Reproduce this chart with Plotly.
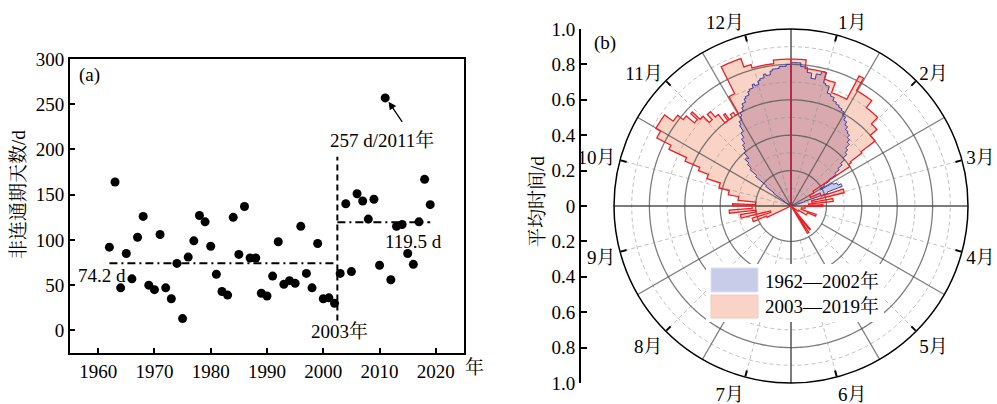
import numpy as np
import plotly.graph_objects as go

W, H = 997, 404
FONT = "'Liberation Serif', 'Noto Serif CJK SC', 'Noto Sans CJK SC', serif"

# ---------------- (a) data ----------------
years = list(range(1962, 2020))
days = [92, 164, 47, 85, 57, 103, 126, 50, 45, 106, 47, 35, 74, 13, 81, 99, 127, 120, 93, 62,
        43, 39, 125, 84, 137, 80, 80, 41, 38, 60, 98, 51, 55, 52, 115, 63, 47, 96, 35, 36, 30,
        63, 140, 65, 151, 143, 123, 145, 72, 257, 56, 115, 117, 85, 73, 120, 167, 139]
mean_early, mean_late = 74.2, 119.5
split_year = 2002.5
x_ticks = [1960, 1970, 1980, 1990, 2000, 2010, 2020]
y_ticks = [0, 50, 100, 150, 200, 250, 300]

# ---------------- (b) data: step values by day of year ----------------
red_start_day = [0, 6, 15, 20, 28, 30, 38, 45, 49, 53, 54, 55, 57, 61, 67, 73, 77, 81, 85, 89,
                 92, 101, 110, 114, 122, 128, 142, 144, 148, 151, 248, 251, 256, 260, 264, 267,
                 270, 274, 276, 280, 284, 288, 292, 295, 297, 299, 301, 304, 310, 313, 315, 317,
                 318, 320, 322, 324, 326, 328, 329, 331, 333, 335, 338, 346, 349, 358]
red_value = [0.83, 0.78, 0.74, 0.68, 0.83, 0.75, 0.70, 0.65, 0.60, 0.50, 0.42, 0.40, 0.15, 0.12,
             0.18, 0.31, 0.12, 0.24, 0.10, 0.18, 0.08, 0.06, 0.15, 0.10, 0.05, 0.0, 0.17, 0.05,
             0.18, 0.0, 0.15, 0.23, 0.12, 0.29, 0.20, 0.35, 0.22, 0.33, 0.20, 0.30, 0.36, 0.42,
             0.50, 0.56, 0.65, 0.76, 0.85, 0.88, 0.82, 0.78, 0.72, 0.77, 0.71, 0.66, 0.70, 0.66,
             0.60, 0.64, 0.60, 0.62, 0.60, 0.71, 0.88, 0.83, 0.81, 0.83]
blue_start_day = [0, 4, 7, 9, 11, 13, 15, 16, 18, 20, 22, 24, 26, 28, 30, 32, 34, 36, 38, 40, 42,
                  44, 46, 48, 50, 52, 54, 56, 58, 60, 62, 64, 67, 70, 72, 74, 77, 307, 310, 312,
                  314, 316, 318, 320, 322, 323, 325, 326, 328, 330, 332, 333, 335, 336, 338, 339,
                  341, 342, 344, 345, 347, 348, 350, 351, 353, 354, 356, 357, 360, 363]
blue_value = [0.81, 0.79, 0.76, 0.73, 0.76, 0.78, 0.72, 0.71, 0.67, 0.66, 0.64, 0.63, 0.62, 0.61,
              0.59, 0.57, 0.55, 0.53, 0.52, 0.50, 0.48, 0.45, 0.43, 0.40, 0.37, 0.34, 0.31, 0.26,
              0.22, 0.19, 0.27, 0.29, 0.31, 0.22, 0.08, 0.03, 0.0, 0.05, 0.12, 0.18, 0.26, 0.31,
              0.34, 0.37, 0.36, 0.40, 0.42, 0.44, 0.47, 0.50, 0.54, 0.56, 0.58, 0.60, 0.62, 0.64,
              0.66, 0.67, 0.69, 0.70, 0.72, 0.71, 0.73, 0.74, 0.76, 0.75, 0.77, 0.78, 0.79, 0.80]
months = ['1月', '2月', '3月', '4月', '5月', '6月', '7月', '8月', '9月', '10月', '11月', '12月']
series_names = ['1962—2002年', '2003—2019年']


def daily(starts, vals):
    out = np.zeros(365)
    for i, s in enumerate(starts):
        e = starts[i + 1] if i + 1 < len(starts) else 365
        out[s:e] = vals[i]
    return out


def outline(v):
    th, r = [0.0], [0.0]
    for d in range(365):
        a0, a1 = d * 360 / 365, (d + 1) * 360 / 365
        th += [a0, a1]
        r += [v[d], v[d]]
    th.append(360.0)
    r.append(0.0)
    return r, th


red_d = daily(red_start_day, red_value)
blue_d = daily(blue_start_day, blue_value)
both_d = np.minimum(red_d, blue_d)

fig = go.Figure()

# ---- (a) scatter ----
fig.add_trace(go.Scatter(x=years, y=days, mode='markers',
                         marker=dict(size=9, color='black'), xaxis='x', yaxis='y'))
fig.add_trace(go.Scatter(x=[years[0], split_year], y=[mean_early, mean_early], mode='lines',
                         line=dict(color='black', width=2, dash='8px,4px,2px,4px'),
                         xaxis='x', yaxis='y'))
fig.add_trace(go.Scatter(x=[split_year, years[-1]], y=[mean_late, mean_late], mode='lines',
                         line=dict(color='black', width=2, dash='8px,4px,2px,4px'),
                         xaxis='x', yaxis='y'))
fig.add_trace(go.Scatter(x=[split_year, split_year], y=[11, 192], mode='lines',
                         line=dict(color='black', width=2, dash='6px,4px'),
                         xaxis='x', yaxis='y'))

# ---- (b) polar fills ----
rr, th = outline(red_d)
br, bth = outline(blue_d)
mr, mth = outline(both_d)
fig.add_trace(go.Scatterpolar(r=rr, theta=th, mode='lines', fill='toself',
                              fillcolor='rgb(249,211,197)', line=dict(width=0)))
fig.add_trace(go.Scatterpolar(r=br, theta=bth, mode='lines', fill='toself',
                              fillcolor='rgb(200,204,232)', line=dict(width=0)))
fig.add_trace(go.Scatterpolar(r=mr, theta=mth, mode='lines', fill='toself',
                              fillcolor='rgb(216,170,175)', line=dict(width=0)))

# grid
LIGHT = dict(color='rgba(140,140,140,0.55)', width=1, dash='4px,3px')
circ = np.arange(0, 361, 1.0)
half = np.arange(-90, 91, 1.0)
fig.add_trace(go.Scatterpolar(r=[0.1] * len(half), theta=half, mode='lines', line=LIGHT))
for rv in [0.3, 0.5, 0.7, 0.9]:
    fig.add_trace(go.Scatterpolar(r=[rv] * len(circ), theta=circ, mode='lines', line=LIGHT))
for rv in [0.2, 0.4, 0.6, 0.8]:
    fig.add_trace(go.Scatterpolar(r=[rv] * len(circ), theta=circ, mode='lines',
                                  line=dict(color='rgba(70,70,70,0.7)', width=1.3)))
for a in range(15, 360, 30):
    r0 = 0.2 if 90 < a < 270 else 0
    fig.add_trace(go.Scatterpolar(r=[r0, 1], theta=[a, a], mode='lines', line=LIGHT))
for a in range(0, 360, 30):
    wd = 2 if a % 90 == 0 else 1.3
    r0 = 0.2 if 90 < a < 270 and a != 180 else 0
    fig.add_trace(go.Scatterpolar(r=[r0, 1], theta=[a, a], mode='lines',
                                  line=dict(color='rgba(70,70,70,0.7)', width=wd)))

# outlines (blue first, red on top)
fig.add_trace(go.Scatterpolar(r=br, theta=bth, mode='lines',
                              line=dict(color='rgb(60,62,160)', width=1)))
fig.add_trace(go.Scatterpolar(r=rr, theta=th, mode='lines',
                              line=dict(color='rgb(236,32,36)', width=1.3)))

# helper axis for the radial scale on the left
fig.add_trace(go.Scatter(x=[0], y=[0], mode='markers', marker=dict(opacity=0),
                         xaxis='x2', yaxis='y2', hoverinfo='skip'))

px = lambda v: v / W
py = lambda v: 1 - v / H

rad_vals = [-1, -0.8, -0.6, -0.4, -0.2, 0, 0.2, 0.4, 0.6, 0.8, 1]
rad_text = ['1.0', '0.8', '0.6', '0.4', '0.2', '0', '0.2', '0.4', '0.6', '0.8', '1.0']

fig.update_layout(
    width=W, height=H, margin=dict(l=0, r=0, t=0, b=0, pad=0, autoexpand=False),
    paper_bgcolor='white', plot_bgcolor='rgba(0,0,0,0)', showlegend=False,
    font=dict(family=FONT, size=19, color='black'),
    xaxis=dict(domain=[px(70), px(464)], range=[1955, 2025], tickvals=x_ticks,
               showline=True, linecolor='black', linewidth=2, mirror=True,
               ticks='inside', ticklen=5, tickwidth=1.5, tickcolor='black',
               showgrid=False, zeroline=False, tickfont=dict(size=19), automargin=False),
    yaxis=dict(domain=[py(353), py(59)], range=[-25, 300], tickvals=y_ticks,
               showline=True, linecolor='black', linewidth=2, mirror=True,
               ticks='inside', ticklen=5, tickwidth=1.5, tickcolor='black',
               showgrid=False, zeroline=False, tickfont=dict(size=19), automargin=False),
    xaxis2=dict(domain=[px(581), px(600)], visible=False, range=[0, 1]),
    yaxis2=dict(domain=[py(383), py(29)], range=[-1, 1], anchor='x2', side='left',
                tickvals=rad_vals, ticktext=rad_text, showline=True, linecolor='black',
                linewidth=2, ticks='inside', ticklen=6, tickwidth=1.5, tickcolor='black',
                showgrid=False, zeroline=False, tickfont=dict(size=19), automargin=False),
    polar=dict(
        domain=dict(x=[px(614), px(968)], y=[py(383), py(29)]),
        bgcolor='rgba(0,0,0,0)',
        angularaxis=dict(rotation=90, direction='clockwise',
                         tickvals=list(range(15, 360, 30)), ticktext=months,
                         showgrid=False, showline=True, linecolor='black', linewidth=1.5,
                         ticks='inside', ticklen=6, tickwidth=1.5, tickcolor='black',
                         tickfont=dict(size=19)),
        radialaxis=dict(range=[0, 1], showgrid=False, showline=False, showticklabels=False,
                        ticks=''),
    ),
)

ann = []
ann.append(dict(text='(a)', x=px(77), y=py(75), xref='paper', yref='paper',
                xanchor='left', yanchor='middle', showarrow=False))
ann.append(dict(text='(b)', x=px(592), y=py(43), xref='paper', yref='paper',
                xanchor='left', yanchor='middle', showarrow=False))
ann.append(dict(text=f'{mean_early} d', x=px(76), y=py(275), xref='paper', yref='paper',
                xanchor='left', yanchor='middle', showarrow=False))
ann.append(dict(text=f'{mean_late} d', x=px(383), y=py(241), xref='paper', yref='paper',
                xanchor='left', yanchor='middle', showarrow=False))
ann.append(dict(text='2003年', x=px(339), y=py(331), xref='paper', yref='paper',
                xanchor='center', yanchor='middle', showarrow=False))
ann.append(dict(text='257 d/2011年', x=px(382), y=py(140), xref='paper', yref='paper',
                xanchor='center', yanchor='middle', showarrow=False))
ann.append(dict(text='', x=2011.6, y=252.8, ax=2014.2, ay=228.9, xref='x', yref='y',
                axref='x', ayref='y', showarrow=True, arrowhead=2, arrowsize=1.2,
                arrowwidth=1.3, arrowcolor='black'))
ann.append(dict(text='年', x=px(463), y=py(367), xref='paper', yref='paper',
                xanchor='left', yanchor='middle', showarrow=False))
ann.append(dict(text='非连通期天数/d', x=px(18), y=py(195), xref='paper', yref='paper',
                xanchor='center', yanchor='middle', textangle=-90, showarrow=False))
ann.append(dict(text='平均时间/d', x=px(537), y=py(202), xref='paper', yref='paper',
                xanchor='center', yanchor='middle', textangle=-90, showarrow=False))
ann.append(dict(text=series_names[0], x=px(763), y=py(281), xref='paper', yref='paper',
                xanchor='left', yanchor='middle', showarrow=False))
ann.append(dict(text=series_names[1], x=px(763), y=py(306), xref='paper', yref='paper',
                xanchor='left', yanchor='middle', showarrow=False))
fig.update_layout(annotations=ann)

shapes = [
    dict(type='rect', xref='paper', yref='paper', x0=px(706), x1=px(884), y0=py(322), y1=py(264),
         fillcolor='white', line=dict(width=0)),
    dict(type='rect', xref='paper', yref='paper', x0=px(711), x1=px(758), y0=py(292), y1=py(268),
         fillcolor='rgb(200,204,232)', line=dict(color='rgb(222,224,240)', width=1)),
    dict(type='rect', xref='paper', yref='paper', x0=px(711), x1=px(758), y0=py(318), y1=py(295),
         fillcolor='rgb(249,211,197)', line=dict(color='rgb(246,200,186)', width=1)),
]
fig.update_layout(shapes=shapes)

fig.write_html('out.html')
